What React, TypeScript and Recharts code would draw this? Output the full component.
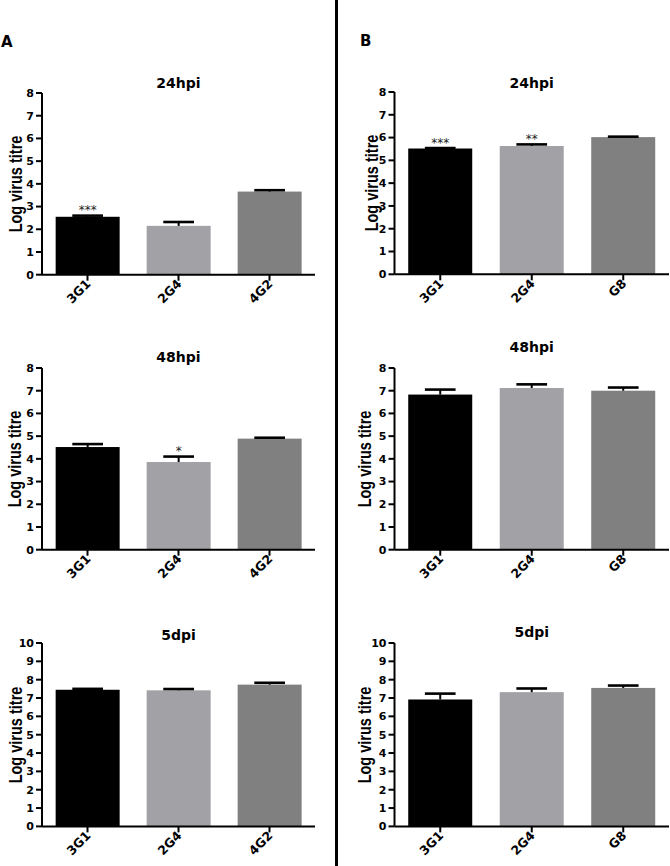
import React from 'react';
import { BarChart, Bar, XAxis, YAxis } from 'recharts';

// --- data ---
const groupsA = ['3G1', '2G4', '4G2'];
const groupsB = ['3G1', '2G4', 'G8'];

const a24Mean = [2.55, 2.15, 3.66];
const a24Err = [0.05, 0.17, 0.06];
const a24Sig = ['***', '', ''];

const a48Mean = [4.52, 3.86, 4.89];
const a48Err = [0.13, 0.24, 0.04];
const a48Sig = ['', '*', ''];

const a5Mean = [7.45, 7.42, 7.73];
const a5Err = [0.05, 0.07, 0.1];
const a5Sig = ['', '', ''];

const b24Mean = [5.52, 5.63, 6.02];
const b24Err = [0.02, 0.07, 0.02];
const b24Sig = ['***', '**', ''];

const b48Mean = [6.83, 7.12, 7.0];
const b48Err = [0.22, 0.16, 0.14];
const b48Sig = ['', '', ''];

const b5Mean = [6.92, 7.32, 7.55];
const b5Err = [0.32, 0.2, 0.13];
const b5Sig = ['', '', ''];

const ticks8 = [0, 1, 2, 3, 4, 5, 6, 7, 8];
const ticks10 = [0, 1, 2, 3, 4, 5, 6, 7, 8, 9, 10];

const BAR_COLORS = ['#000000', '#a2a2a6', '#808080'];
const FONT = '"DejaVu Sans", Arial, sans-serif';
const ARIAL = '"Liberation Sans", Arial, sans-serif';

const makeRows = (names: string[], means: number[], errs: number[], sig: string[]) =>
  names.map((name, i) => ({ name, value: means[i], err: errs[i], sig: sig[i] }));

// bar + one-sided (upper) error bar, GraphPad style
const renderBar = (props: any) => {
  const { x, y, width, height, payload, index } = props;
  const pxPerUnit = payload.value ? height / payload.value : 0;
  const errTop = y - payload.err * pxPerUnit;
  const cx = x + width / 2;
  const cap = width * 0.24;
  return (
    <g>
      <rect x={x} y={y} width={width} height={height} fill={BAR_COLORS[index % 3]} />
      <line x1={cx} x2={cx} y1={y} y2={errTop} stroke="#000" strokeWidth={2} />
      <line x1={cx - cap} x2={cx + cap} y1={errTop} y2={errTop} stroke="#000" strokeWidth={2.6} />
      {payload.sig && (
        <text x={cx} y={errTop - 1.5} textAnchor="middle" fontSize={12} fontFamily={FONT} fill="#222">
          {payload.sig}
        </text>
      )}
    </g>
  );
};

const XTick = (props: any) => {
  const { x, y, payload } = props;
  const tx = x + 4;
  const ty = y + 2;
  return (
    <text
      x={tx}
      y={ty}
      transform={`rotate(-45 ${tx} ${ty})`}
      textAnchor="end"
      fontSize={12.5}
      fontWeight="bold"
      fontFamily={FONT}
      fill="#000"
    >
      {payload.value}
    </text>
  );
};

interface PanelProps {
  title: string;
  rows: any[];
  ticks: number[];
  colLeft: number;
  axisX: number;
  plotRight: number;
  top: number;
  bottom: number;
  titleY: number;
  labelX: number;
}

const Panel = ({ title, rows, ticks, colLeft, axisX, plotRight, top, bottom, titleY, labelX }: PanelProps) => {
  const mTop = 12;
  const xAxisH = 50;
  const width = plotRight - colLeft + 1;
  const height = bottom - top + mTop + xAxisH;
  const titleX = (axisX + plotRight) / 2;
  return (
    <>
      <div
        style={{
          position: 'absolute',
          left: titleX,
          top: titleY,
          transform: 'translate(-50%, -50%)',
          fontFamily: FONT,
          fontWeight: 'bold',
          fontSize: 14,
          whiteSpace: 'nowrap',
        }}
      >
        {title}
      </div>
      <div
        style={{
          position: 'absolute',
          left: labelX,
          top: (top + bottom) / 2,
          transform: 'translate(-50%, -50%) scale(1.3, 1) rotate(-90deg)',
          fontFamily: ARIAL,
          fontWeight: 'bold',
          fontSize: 14.5,
          lineHeight: 1,
          whiteSpace: 'nowrap',
        }}
      >
        Log virus titre
      </div>
      <div style={{ position: 'absolute', left: colLeft, top: top - mTop }}>
        <BarChart
          width={width}
          height={height}
          data={rows}
          margin={{ top: mTop, right: 1, bottom: 0, left: 0 }}
          barCategoryGap="15%"
        >
          <XAxis
            dataKey="name"
            height={xAxisH}
            axisLine={{ stroke: '#000', strokeWidth: 2 }}
            tickLine={{ stroke: '#000', strokeWidth: 2 }}
            tickSize={6}
            tick={<XTick />}
            interval={0}
          />
          <YAxis
            width={axisX - colLeft}
            domain={[0, ticks[ticks.length - 1]]}
            ticks={ticks}
            interval={0}
            axisLine={{ stroke: '#000', strokeWidth: 2 }}
            tickLine={{ stroke: '#000', strokeWidth: 2 }}
            tickSize={6}
            tickMargin={2}
            tick={{ fill: '#000', fontSize: 11, fontWeight: 'bold', fontFamily: FONT }}
          />
          <Bar dataKey="value" shape={renderBar} isAnimationActive={false} />
        </BarChart>
      </div>
    </>
  );
}

export default function App() {
  return (
    <div
      style={{
        position: 'absolute',
        left: 0,
        top: 0,
        width: 670,
        height: 866,
        background: '#fff',
        overflow: 'hidden',
      }}
    >
      <div style={{ position: 'absolute', left: 335, top: 0, width: 3, height: 866, background: '#000' }} />
      <div style={{ position: 'absolute', left: 1, top: 33, fontFamily: FONT, fontWeight: 'bold', fontSize: 15 }}>A</div>
      <div style={{ position: 'absolute', left: 360, top: 32, fontFamily: FONT, fontWeight: 'bold', fontSize: 15 }}>B</div>

      <Panel title="24hpi" rows={makeRows(groupsA, a24Mean, a24Err, a24Sig)} ticks={ticks8}
        colLeft={0} axisX={42} plotRight={315} top={93.3} bottom={275} titleY={83} labelX={16} />
      <Panel title="48hpi" rows={makeRows(groupsA, a48Mean, a48Err, a48Sig)} ticks={ticks8}
        colLeft={0} axisX={42} plotRight={315} top={368.3} bottom={550} titleY={356.7} labelX={15} />
      <Panel title="5dpi" rows={makeRows(groupsA, a5Mean, a5Err, a5Sig)} ticks={ticks10}
        colLeft={0} axisX={42} plotRight={315} top={643.3} bottom={826.7} titleY={635} labelX={16} />

      <Panel title="24hpi" rows={makeRows(groupsB, b24Mean, b24Err, b24Sig)} ticks={ticks8}
        colLeft={338} axisX={394.5} plotRight={669} top={91.7} bottom={274} titleY={83} labelX={372} />
      <Panel title="48hpi" rows={makeRows(groupsB, b48Mean, b48Err, b48Sig)} ticks={ticks8}
        colLeft={338} axisX={394.5} plotRight={669} top={368.3} bottom={550} titleY={346.7} labelX={365} />
      <Panel title="5dpi" rows={makeRows(groupsB, b5Mean, b5Err, b5Sig)} ticks={ticks10}
        colLeft={338} axisX={394.5} plotRight={669} top={643.3} bottom={826.7} titleY={631.7} labelX={365} />
    </div>
  );
}
